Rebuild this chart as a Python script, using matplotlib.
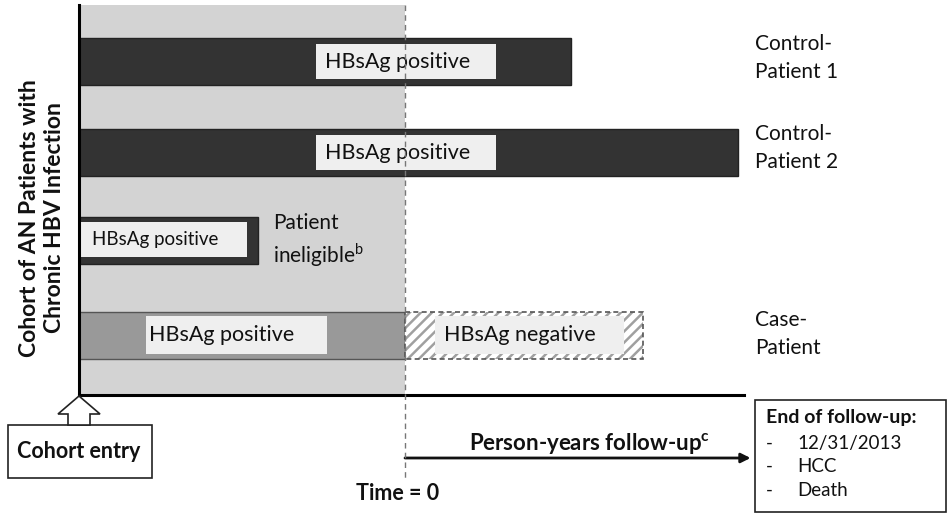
import matplotlib
matplotlib.use("Agg")
import matplotlib.pyplot as plt
from matplotlib.patches import Rectangle, Polygon

plt.rcParams['font.family'] = ['Lato', 'DejaVu Sans']
plt.rcParams['hatch.linewidth'] = 1.8

# ---- data (time units; 0 = Time 0, cohort entry at -10) ----
row_labels = ["Control-\nPatient 1", "Control-\nPatient 2", "Patient\nineligible$^{\\mathregular{b}}$", "Case-\nPatient"]
row_y = [61.5, 152.0, 240.0, 335.0]
bar_start = [-10.0, -10.0, -10.0, -10.0]
bar_end = [5.1, 10.2, -4.5, 7.3]
case_pos_end = 0.0
inner_label = ["HBsAg positive", "HBsAg positive", "HBsAg positive", "HBsAg positive"]
neg_label = "HBsAg negative"
entry_time = -10.0
axis_end = 10.4
followup_end = 10.6
end_items = ["12/31/2013", "HCC", "Death"]

S = 32.6  # px per unit
X0 = 405.0
W, H = 953, 515

fig = plt.figure(figsize=(W/100, H/100), dpi=100)
ax = fig.add_axes([0, 0, 1, 1])
ax.set_xlim(-X0/S, (W-X0)/S)
ax.set_ylim(H, 0)
ax.axis('off')

def px(u):
    return u / S

bar_h = 47
dark = '#333333'
light = '#efefef'
tc = '#111111'
fs = 15.5

# shaded cohort region
ax.add_patch(Rectangle((entry_time, 5), 0-entry_time, 390, fc='#d3d3d3', ec='none', zorder=0))

# Control 1 and 2
for i in [0, 1]:
    y = row_y[i]
    ax.add_patch(Rectangle((bar_start[i], y-bar_h/2), bar_end[i]-bar_start[i], bar_h,
                           fc=dark, ec='#222222', lw=1, zorder=2))
    ax.add_patch(Rectangle((px(-89), y-17.5), px(180), 35, fc=light, ec='none', zorder=3))
    ax.text(px(-7), y+1, inner_label[i], ha='center', va='center', fontsize=fs, color=tc, zorder=4)
    ax.text(px(755-X0), y-4, row_labels[i], ha='left', va='center', fontsize=15,
            color=tc, linespacing=1.5)

# Ineligible
y = row_y[2]
ax.add_patch(Rectangle((bar_start[2], y-bar_h/2), bar_end[2]-bar_start[2], bar_h,
                       fc=dark, ec='#222222', lw=1, zorder=2))
ax.add_patch(Rectangle((px(81-X0), y-18), px(166), 35, fc=light, ec='none', zorder=3))
ax.text(px(155-X0), y, inner_label[2], ha='center', va='center', fontsize=13.5, color=tc, zorder=4)
ax.text(px(273-X0), y+1, row_labels[2], ha='left', va='center', fontsize=15,
        color=tc, linespacing=1.35)

# Case patient
y = row_y[3]
ax.add_patch(Rectangle((bar_start[3], y-bar_h/2), case_pos_end-bar_start[3], bar_h,
                       fc='#999999', ec='#555555', lw=1, zorder=2))
ax.add_patch(Rectangle((px(146-X0), y-19), px(181), 38, fc=light, ec='none', zorder=3))
ax.text(px(222-X0), y, inner_label[3], ha='center', va='center', fontsize=fs, color=tc, zorder=4)
ax.add_patch(Rectangle((case_pos_end, y-bar_h/2), bar_end[3]-case_pos_end, bar_h,
                       fc='white', ec='#a0a0a0', hatch='///', lw=0, zorder=2))
ax.add_patch(Rectangle((case_pos_end, y-bar_h/2), bar_end[3]-case_pos_end, bar_h,
                       fc='none', ec='#555555', lw=1.2, ls=(0, (3, 2)), zorder=3))
ax.add_patch(Rectangle((px(435-X0), y-19), px(189), 38, fc=light, ec='none', zorder=3))
ax.text(px(520-X0), y, neg_label, ha='center', va='center', fontsize=fs, color=tc, zorder=4)
ax.text(px(755-X0), y-1, row_labels[3], ha='left', va='center', fontsize=15,
        color=tc, linespacing=1.5)

# axes lines
ax.plot([entry_time, entry_time], [5, 395], color='black', lw=2.2, zorder=5)
ax.plot([entry_time, axis_end], [395, 395], color='black', lw=2.2, zorder=5)
# time 0 dashed
ax.plot([0, 0], [5, 478], color='#777777', lw=1, ls=(0, (4, 3)), zorder=5)

# y label
ax.text(px(42-X0), 218, "Cohort of AN Patients with\nChronic HBV Infection", rotation=90,
        ha='center', va='center', fontsize=16.5, fontweight='bold', color=tc, linespacing=1.25)

# cohort entry hollow arrow
arrow_pts = [(entry_time, 396), (entry_time+px(21), 414), (entry_time+px(11), 414),
             (entry_time+px(11), 425), (entry_time-px(11), 425), (entry_time-px(11), 414),
             (entry_time-px(21), 414)]
ax.add_patch(Polygon(arrow_pts, closed=True, fc='white', ec='#222222', lw=1.2, zorder=6))
ax.add_patch(Rectangle((px(8-X0), 425), px(144), 53, fc='white', ec='#222222', lw=1.2, zorder=5))
ax.text(px(79-X0), 452, "Cohort entry", ha='center', va='center', fontsize=15.5,
        fontweight='bold', color=tc, zorder=7)

# Time = 0
ax.text(px(-7), 494, "Time = 0", ha='center', va='center', fontsize=15.5, fontweight='bold', color=tc)

# follow-up arrow
ax.annotate("", xy=(followup_end, 458), xytext=(0, 458),
            arrowprops=dict(arrowstyle='-|>', color=tc, lw=2, mutation_scale=14, shrinkA=0, shrinkB=0))
ax.text(px(590-X0), 443, "Person-years follow-up$^{\\mathregular{c}}$", ha='center', va='center',
        fontsize=16, fontweight='bold', color=tc)

# end of follow-up box
ax.add_patch(Rectangle((px(755-X0), 400), px(191), 112, fc='white', ec='#222222', lw=1.2, zorder=5))
ax.text(px(766-X0), 418, "End of follow-up:", ha='left', va='center', fontsize=14,
        fontweight='bold', color=tc, zorder=6)
for k, item in enumerate(end_items):
    yy = 443 + k*23.5
    ax.text(px(766-X0), yy, "-", ha='left', va='center', fontsize=13.5, color=tc, zorder=6)
    ax.text(px(797-X0), yy, item, ha='left', va='center', fontsize=13.5, color=tc, zorder=6)

fig.savefig("out.png", dpi=100)
